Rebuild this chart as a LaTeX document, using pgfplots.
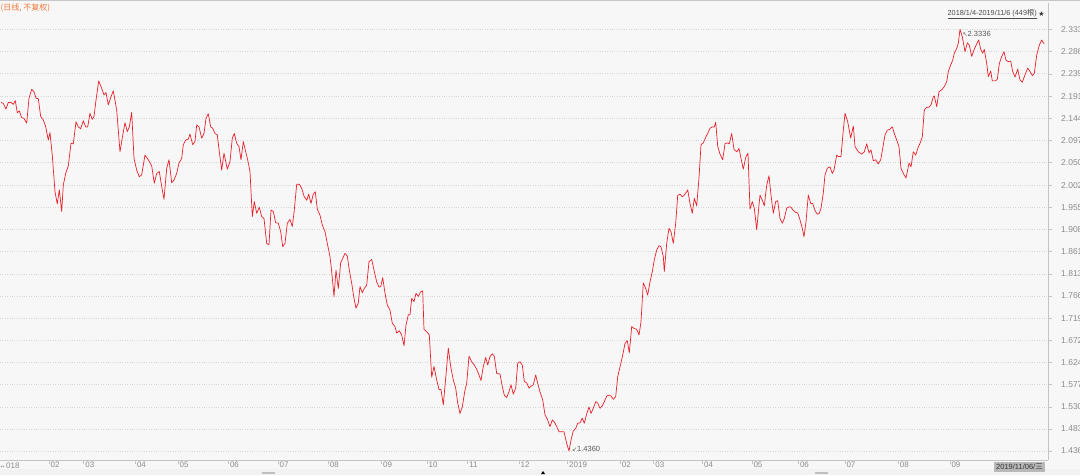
\documentclass[border=0pt]{standalone}
\usepackage{pgfplots}
\pgfplotsset{compat=1.18}
\usepackage{pgfplotstable}
\usepackage{fontspec}
\setmainfont{Liberation Sans}
\newfontfamily\cjk{Noto Sans CJK SC}
\newfontfamily\dejavu{DejaVu Sans}
\definecolor{bg}{HTML}{F7F7F7}
\definecolor{linered}{HTML}{E8202A}
\definecolor{axgray}{HTML}{C4C4C4}
\definecolor{txtgray}{HTML}{8C8C8C}
\definecolor{gridgray}{HTML}{D6D6D6}
\definecolor{orangetitle}{HTML}{F07838}
\pgfplotstableread{
x y
1 2.178
3.3 2.176
6 2.164
8.3 2.178
11 2.178
13.3 2.174
15.3 2.182
17.3 2.156
19.3 2.160
21.7 2.146
24 2.144
26.7 2.134
29 2.187
31.7 2.206
34 2.201
36 2.187
38.3 2.186
40.7 2.148
43.3 2.141
45.7 2.126
48.3 2.098
50 2.114
52.3 2.065
55 1.988
57.3 1.962
59.3 1.992
61.7 1.946
63.3 2.002
65.7 2.027
68.3 2.043
71 2.091
73.3 2.090
76 2.137
78.3 2.126
80.7 2.122
83.3 2.139
85.7 2.126
87.7 2.126
90 2.155
92.3 2.142
94 2.148
96 2.183
98.7 2.224
101.7 2.208
104 2.194
106 2.199
108.3 2.173
111 2.190
113.3 2.203
116.7 2.162
120 2.073
122.3 2.103
125 2.135
127.3 2.116
129.3 2.126
131.7 2.157
134 2.059
136.7 2.034
139.3 2.020
141.7 2.024
145 2.066
148.3 2.056
151.7 2.043
154.3 2.006
156.7 2.027
159.3 2.031
161.7 1.999
164 1.972
166.7 2.038
169 2.056
171.7 2.007
174 2.013
176.7 2.027
179 2.049
181.7 2.059
183.3 2.088
185.7 2.098
188.3 2.100
190 2.111
192.7 2.088
195 2.095
196.7 2.130
199 2.126
201.7 2.102
204 2.112
206 2.144
208.3 2.154
210.7 2.126
212.7 2.123
215 2.112
217.3 2.109
219.3 2.073
221.7 2.034
224 2.070
227.3 2.036
230 2.052
232.3 2.102
234.3 2.112
236.7 2.091
239 2.084
241 2.056
243.3 2.095
245.7 2.073
247.7 2.056
250 2.031
252.3 1.935
254.3 1.967
256.7 1.942
259.3 1.955
261.7 1.935
264 1.931
266.7 1.878
269 1.875
271 1.949
273.3 1.946
275.7 1.922
278.3 1.921
280.7 1.903
282.7 1.871
285 1.878
287.3 1.921
290 1.929
292.3 1.914
294.3 1.949
296.7 2.004
299.3 2.004
301.7 1.995
304.3 1.977
306.7 1.970
308.7 1.983
311 1.963
313.3 1.983
315.3 1.988
317.3 1.951
320 1.938
322.3 1.917
325 1.903
327.3 1.878
330 1.850
331.7 1.818
334 1.765
336 1.821
338.3 1.782
340.7 1.837
342.7 1.846
345 1.857
347.3 1.851
349.3 1.821
351.7 1.793
354 1.761
356 1.740
358.3 1.751
360 1.786
362.3 1.773
364.3 1.782
366.7 1.789
369 1.839
371.7 1.844
374 1.821
376.7 1.796
379 1.785
380.7 1.786
382.7 1.805
385 1.772
387.3 1.747
390 1.736
392.3 1.708
395 1.701
396.7 1.687
399.3 1.692
401.7 1.683
404 1.660
406 1.704
408.3 1.726
410 1.726
411.7 1.761
414 1.754
416 1.772
418.3 1.765
420.7 1.775
422.7 1.777
424 1.695
426.7 1.690
429.3 1.683
431.7 1.593
434 1.616
436.7 1.587
439 1.567
441 1.567
443.3 1.534
445.7 1.591
448.3 1.655
450.7 1.616
453.3 1.587
455.7 1.570
457.7 1.538
460 1.516
462.3 1.530
465 1.566
466.7 1.580
469 1.638
471.7 1.626
474.3 1.619
476.7 1.610
479 1.598
481 1.586
483.3 1.616
485.7 1.635
487.7 1.619
490 1.637
492.3 1.643
494.3 1.638
496.7 1.601
500 1.600
502.3 1.573
504.3 1.555
506.7 1.550
509 1.562
511 1.577
513.3 1.557
515.7 1.570
517.7 1.623
520 1.626
522.3 1.619
524.3 1.584
526.7 1.581
529 1.570
531 1.574
533.3 1.577
535.7 1.598
537.7 1.580
540 1.562
542.7 1.545
545 1.513
547.3 1.504
550 1.488
552.3 1.502
554.3 1.498
556.7 1.488
559 1.477
561.7 1.477
564 1.477
566.7 1.452
569 1.436
571 1.459
573.3 1.479
575.7 1.484
577.7 1.495
580 1.496
582.3 1.506
584.3 1.495
586.7 1.515
589 1.530
591 1.516
593.3 1.527
595.7 1.541
597.7 1.538
600 1.527
602.3 1.532
604.3 1.541
606.7 1.553
609 1.555
611 1.553
613.3 1.546
615.7 1.552
617.7 1.594
620 1.615
622.7 1.640
625 1.665
627.3 1.671
629.3 1.645
631.7 1.701
634 1.697
636.7 1.695
639 1.683
641 1.711
643.3 1.794
645.7 1.782
647.7 1.768
650 1.796
652.3 1.818
654.3 1.843
656.7 1.864
659 1.873
661 1.871
663.3 1.850
664.3 1.818
666.7 1.878
669 1.910
671 1.903
673.3 1.878
675.7 1.921
677.7 1.980
680 1.983
682.3 1.977
684.3 1.981
686.7 1.988
687.7 1.992
690 1.963
692.3 1.942
694.3 1.974
696.7 1.958
699 2.017
701 2.088
703.3 2.092
705.7 2.104
707.7 2.112
710 2.123
712.3 2.126
714.3 2.126
715.7 2.136
717.7 2.085
720 2.068
722.7 2.056
725 2.090
727.3 2.092
729.3 2.090
731.7 2.112
734 2.078
736.7 2.073
739 2.080
741 2.059
743.3 2.036
745.7 2.061
748 2.070
750 1.951
752.3 1.967
754.3 1.953
756.7 1.907
758.7 1.953
760 1.981
762.3 1.970
764.3 1.958
766.7 2.002
769 2.022
771 1.981
773.3 1.942
775.7 1.967
777.7 1.969
780 1.931
782.3 1.921
784.3 1.931
786.7 1.953
789 1.956
791 1.955
793.3 1.948
795.7 1.944
797.7 1.943
800 1.928
802.3 1.910
804 1.892
806 1.924
808.3 1.981
810.7 1.963
812.7 1.963
815 1.948
817.3 1.940
819.3 1.942
821 1.953
823.3 1.985
825 2.024
827.3 2.038
830 2.041
832.3 2.027
834 2.034
836.7 2.066
838.3 2.063
841 2.063
843.3 2.119
845 2.155
847.7 2.137
850.7 2.102
853.3 2.128
855 2.084
858.3 2.073
861.7 2.068
864.3 2.073
866.7 2.090
869 2.071
871 2.077
873.3 2.054
875.7 2.056
878.3 2.047
880.7 2.056
882.7 2.080
885 2.109
887.3 2.119
890 2.121
892.3 2.126
894.3 2.112
896.7 2.098
899 2.084
901 2.038
903.3 2.027
906 2.017
909 2.049
911 2.041
913.3 2.073
915.7 2.066
917.7 2.080
920 2.091
922.3 2.105
924.3 2.162
926.7 2.168
929 2.168
931 2.173
933.3 2.190
934.3 2.192
936.7 2.169
939 2.201
941.7 2.205
944.3 2.212
946.7 2.222
948.3 2.244
950.7 2.258
952.7 2.268
954.3 2.283
956.7 2.293
958.3 2.304
960 2.3336
962.3 2.318
965 2.286
967.3 2.305
969.3 2.300
971.7 2.276
974 2.290
976.7 2.303
978.7 2.311
980.7 2.291
982.7 2.283
984.3 2.291
986.7 2.261
988.3 2.233
990.7 2.245
992.3 2.224
995 2.224
997.3 2.227
999.3 2.261
1001.7 2.276
1004 2.286
1006 2.268
1008.3 2.265
1010.7 2.266
1012.7 2.244
1015 2.232
1017.7 2.249
1020 2.226
1022.3 2.221
1025 2.237
1027.7 2.251
1030 2.244
1032.3 2.235
1034.3 2.240
1036.7 2.279
1039.3 2.300
1041.7 2.311
1044 2.303
}\pricedata
\begin{document}
\begin{tikzpicture}[x=1pt,y=1pt]
\fill[bg] (0,0) rectangle (1080,475);
\fill[black!5] (0,0) rectangle (1080,6);
\fill[black!22] (0,473.6) rectangle (1080,475);
\fill[black!25] (262,1.5) rectangle (275,3.5);
\fill[black!25] (815,1.5) rectangle (828,3.5);
\fill[black] (541,1) -- (545,1) -- (543,4) -- cycle;
\begin{axis}[
  at={(0pt,15pt)}, anchor=south west,
  scale only axis, width=1048pt, height=457pt,
  xmin=0, xmax=1048, ymin=1.41684, ymax=2.38979,
  axis x line*=bottom, axis y line*=right,
  axis line style={axgray, line width=0.8pt},
  tick align=outside, major tick length=4pt,
  tick style={axgray, line width=0.6pt},
  ytick={1.436,1.483,1.530,1.577,1.624,1.672,1.719,1.766,1.813,1.861,1.908,1.955,2.002,2.050,2.097,2.144,2.191,2.239,2.286,2.333},
  yticklabels={1.436,1.483,1.530,1.577,1.624,1.672,1.719,1.766,1.813,1.861,1.908,1.955,2.002,2.050,2.097,2.144,2.191,2.239,2.286,2.333},
  yticklabel style={font=\fontsize{8.5}{10}\selectfont, text=txtgray, anchor=west, inner sep=0pt, xshift=9pt},
  xtick={48.9,83.7,135.3,178,228.3,277.9,328.2,381.5,427,467.6,519,567.5,620.2,653.6,702.5,751.8,798.3,844.8,898.1,949.8},
  xticklabels={02,03,04,05,06,07,08,09,10,11,12,2019,02,03,04,05,06,07,08,09},
  xticklabel style={font=\fontsize{8}{9}\selectfont, text=txtgray, anchor=north west, inner sep=0pt, xshift=1.5pt, yshift=2pt},
  ymajorgrids, grid style={gridgray, dotted, line width=0.7pt},
  clip=true,
]
\addplot[linered, line width=0.7pt, line join=round] table[x=x,y=y] {\pricedata};
\node[anchor=west, font=\fontsize{7.5}{9}\selectfont, text=black!65, inner sep=0pt] at (axis cs:962.5,2.3238) {{\dejavu\fontsize{6}{7}\selectfont ↖}2.3336};
\node[anchor=west, font=\fontsize{7.5}{9}\selectfont, text=black!65, inner sep=0pt] at (axis cs:572,1.440) {{\dejavu\fontsize{6}{7}\selectfont ↙}1.4360};
\end{axis}
\node[anchor=west, text=orangetitle, font=\cjk\fontsize{8}{9}\selectfont, inner sep=0pt] at (0.5,467.5) {(日线, 不复权)};
\node[anchor=east, text=black!70, font=\fontsize{7.3}{9}\selectfont, inner sep=0pt] at (1037,461) {\underline{2018/1/4-2019/11/6 ({\cjk 449根})}};
\node[text=black!80, font=\dejavu\fontsize{7}{8}\selectfont, inner sep=0pt] at (1041.5,461) {★};
\node[anchor=west, text=txtgray, font=\fontsize{8}{9}\selectfont, inner sep=0pt] at (0.5,9.5) {{\dejavu\fontsize{5}{6}\selectfont ↔}\,018};
\fill[black!28] (994,3.5) rectangle (1045,13);
\node[text=black!80, font=\fontsize{7.5}{9}\selectfont, inner sep=0pt] at (1019.5,8.3) {2019/11/06/{\cjk 三}};
\pgfresetboundingbox
\path[use as bounding box] (0,0) rectangle (1080,475);
\end{tikzpicture}
\end{document}
